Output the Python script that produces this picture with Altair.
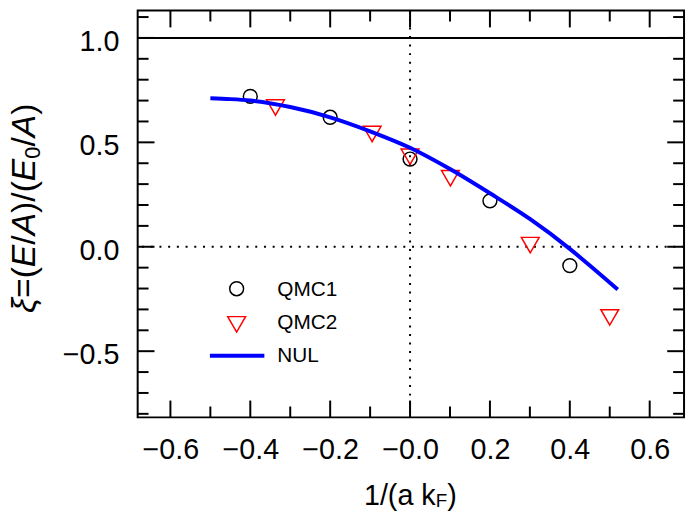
import altair as alt
import pandas as pd

# ---------------- data ----------------
qmc1_x = [-0.4, -0.2, 0.0, 0.2, 0.4]
qmc1_y = [0.72, 0.62, 0.42, 0.22, -0.09]

qmc2_x = [-0.337, -0.095, 0.0, 0.101, 0.301, 0.5]
qmc2_y = [0.667, 0.54, 0.431, 0.328, 0.008, -0.338]

nul_x = [-0.5, -0.45, -0.4, -0.3, -0.2, -0.1, 0.0, 0.1, 0.2, 0.3, 0.4, 0.45, 0.52]
nul_y = [0.711, 0.707, 0.700, 0.669, 0.620, 0.553, 0.474, 0.372, 0.256, 0.133, -0.010, -0.090, -0.205]

x_major = [-0.6, -0.4, -0.2, 0.0, 0.2, 0.4, 0.6]
x_minor = [-0.5, -0.3, -0.1, 0.1, 0.3, 0.5]
y_major = [-0.5, 0.0, 0.5, 1.0]
y_minor = [-0.8, -0.7, -0.6, -0.4, -0.3, -0.2, -0.1, 0.1, 0.2, 0.3, 0.4,
           0.6, 0.7, 0.8, 0.9, 1.1]

ref_solid_y = [1.0]
ref_zero = [0.0]

legend_labels = ["QMC1", "QMC2", "NUL"]

# ---------------- layout ----------------
FONT = "Liberation Sans"
W, H = 552, 411
MAJ, MIN = 17, 11

xs = alt.Scale(domain=[-0.682, 0.686], nice=False, zero=False)
ys = alt.Scale(domain=[-0.817, 1.131], nice=False, zero=False)

xaxis = alt.Axis(
    values=x_major, title=None, ticks=False, domain=False, grid=False,
    labelFont=FONT, labelFontSize=29, labelColor="black", labelPadding=19,
    labelFlush=False, labelOverlap=False,
    labelExpr="datum.value < 0.01 ? '\u2212' + format(abs(datum.value), '.1f') : format(datum.value, '.1f')",
)
yaxis = alt.Axis(
    values=y_major, format=".1f", title=None, ticks=False, domain=False, grid=False,
    labelFont=FONT, labelFontSize=29, labelColor="black", labelPadding=19,
    labelOffset=3.5, labelOverlap=False,
)


def X(f):
    return alt.X(f, type="quantitative", scale=xs, axis=xaxis)


def Y(f):
    return alt.Y(f, type="quantitative", scale=ys, axis=yaxis)


def df1(name, vals):
    return pd.DataFrame({name: vals})


one = alt.Data(values=[{"a": 1}])
layers = []

# ticks (inward, on all four sides)
for vals, ln in ((x_major, MAJ), (x_minor, MIN)):
    d = df1("v", vals)
    layers.append(alt.Chart(d).mark_rule(color="black", strokeWidth=2).encode(
        x=X("v"), y=alt.value(H), y2=alt.value(H - ln)))
    layers.append(alt.Chart(d).mark_rule(color="black", strokeWidth=2).encode(
        x=X("v"), y=alt.value(0), y2=alt.value(ln)))
for vals, ln in ((y_major, MAJ), (y_minor, MIN)):
    d = df1("v", vals)
    layers.append(alt.Chart(d).mark_rule(color="black", strokeWidth=2).encode(
        y=Y("v"), x=alt.value(0), x2=alt.value(ln)))
    layers.append(alt.Chart(d).mark_rule(color="black", strokeWidth=2).encode(
        y=Y("v"), x=alt.value(W), x2=alt.value(W - ln)))

# reference lines
layers.append(alt.Chart(df1("v", ref_zero)).mark_rule(
    color="black", strokeWidth=2, strokeDash=[2, 6.6]).encode(x=X("v")))
layers.append(alt.Chart(df1("v", ref_zero)).mark_rule(
    color="black", strokeWidth=2, strokeDash=[2, 6.8]).encode(y=Y("v")))
layers.append(alt.Chart(df1("v", ref_solid_y)).mark_rule(
    color="black", strokeWidth=2).encode(y=Y("v")))

# data
q1 = pd.DataFrame({"x": qmc1_x, "y": qmc1_y})
q2 = pd.DataFrame({"x": qmc2_x, "y": qmc2_y})
nul = pd.DataFrame({"x": nul_x, "y": nul_y})

layers.append(alt.Chart(q1).mark_point(
    shape="circle", size=196, filled=False, color="black", strokeWidth=1.5, opacity=1
).encode(x=X("x"), y=Y("y")))
layers.append(alt.Chart(q2).mark_point(
    shape="triangle-down", size=324, filled=False, color="#ff0000", strokeWidth=1.5, opacity=1
).encode(x=X("x"), y=Y("y")))
layers.append(alt.Chart(nul).mark_line(
    color="#0000ff", strokeWidth=4, interpolate="monotone"
).encode(x=X("x"), y=Y("y"), order=alt.Order("x:Q")))

# legend (drawn by hand)
layers.append(alt.Chart(one).mark_point(
    shape="circle", size=196, filled=False, color="black", strokeWidth=1.5, opacity=1
).encode(x=alt.value(100), y=alt.value(281)))
layers.append(alt.Chart(one).mark_point(
    shape="triangle-down", size=324, filled=False, color="#ff0000", strokeWidth=1.5, opacity=1
).encode(x=alt.value(100), y=alt.value(317)))
layers.append(alt.Chart(one).mark_rule(color="#0000ff", strokeWidth=4).encode(
    x=alt.value(73), x2=alt.value(128), y=alt.value(348.7)))
for lab, ty in zip(legend_labels, (282.4, 315.2, 349.4)):
    layers.append(alt.Chart(one).mark_text(
        font=FONT, fontSize=21, align="left", baseline="middle", color="black"
    ).encode(x=alt.value(141), y=alt.value(ty), text=alt.value(lab)))

# x title: 1/(a k_F)
xt_start = 228.6
main_fs, sub_fs = 29, 19
w_main = 2.501 * main_fs
w_sub = 0.611 * sub_fs
for txt, fs, px, py in (("1/(a k", main_fs, xt_start, 500),
                        ("F", sub_fs, xt_start + w_main, 501.5),
                        (")", main_fs, xt_start + w_main + w_sub, 500)):
    layers.append(alt.Chart(one).mark_text(
        font=FONT, fontSize=fs, align="left", baseline="alphabetic", color="black"
    ).encode(x=alt.value(px), y=alt.value(py), text=alt.value(txt)))

# y title: xi=(E/A)/(E_0/A), rotated
YT_FS, YT_SUB = 34, 22
bx = -104
P = 290.4
em = {"=(": 0.917, "E": 0.667, "/": 0.278, "A": 0.667, ")/(": 0.944, "0": 0.556, ")": 0.333}
pieces = [("=(", False, YT_FS, 0), ("E", True, YT_FS, 0), ("/", False, YT_FS, 0),
          ("A", True, YT_FS, 0), (")/(", False, YT_FS, 0), ("E", True, YT_FS, 0),
          ("0", False, YT_SUB, 5), ("/", False, YT_FS, 0), ("A", True, YT_FS, 0),
          (")", False, YT_FS, 0)]
layers.append(alt.Chart(one).mark_text(
    font=FONT, fontSize=YT_FS, fontStyle="italic", align="right", baseline="alphabetic",
    angle=270, color="black"
).encode(x=alt.value(bx), y=alt.value(P), text=alt.value("\u03be")))
pos = P
for txt, ital, fs, shift in pieces:
    kw = dict(font=FONT, fontSize=fs, align="left", baseline="alphabetic", angle=270, color="black")
    if ital:
        kw["fontStyle"] = "italic"
    layers.append(alt.Chart(one).mark_text(**kw).encode(
        x=alt.value(bx + shift), y=alt.value(pos), text=alt.value(txt)))
    pos -= em[txt] * fs

chart = alt.layer(*layers).properties(
    width=W, height=H,
    autosize=alt.AutoSizeParams(type="none"),
    padding={"left": 131, "top": 0, "right": 4, "bottom": 94},
).configure_view(stroke="black", strokeWidth=2)

chart.save("out.html", embed_options={"renderer": "svg", "actions": False})
